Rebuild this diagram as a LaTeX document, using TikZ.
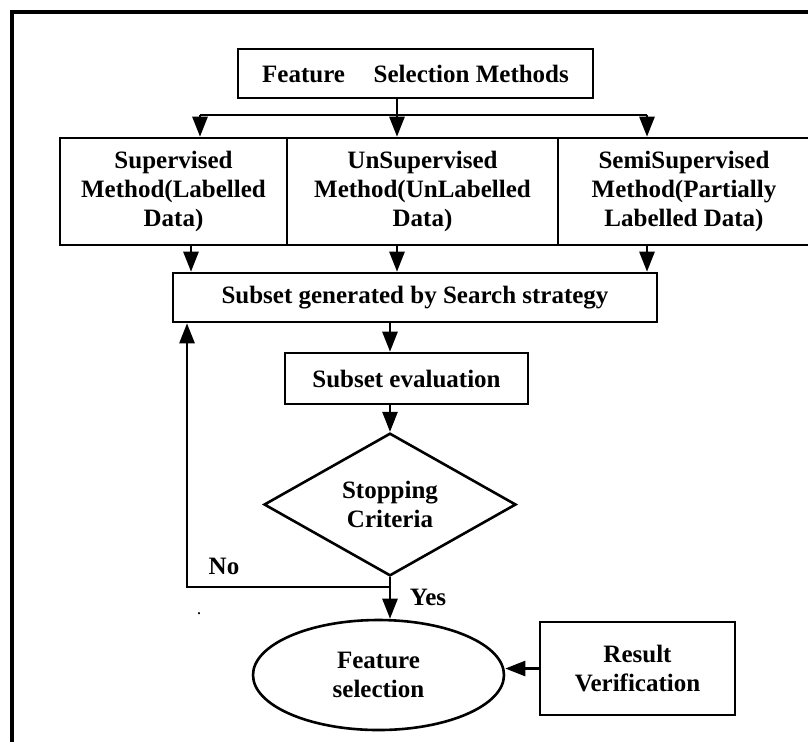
\documentclass[tikz,border=0pt]{standalone}
\usepackage{fontspec}
\setmainfont{Liberation Serif}
\usepackage{tikz}
\usetikzlibrary{shapes.geometric, arrows.meta, positioning}

\begin{document}
\begin{tikzpicture}[
  x=0.5pt, y=-0.5pt,
  every node/.style={font=\bfseries\fontsize{12.5}{14.6}\selectfont},
  box/.style={draw, line width=1.3pt, align=center, inner sep=0pt},
  cond/.style={box, diamond},
  endp/.style={box, ellipse},
  arr/.style={-{Triangle[length=10pt, width=7.5pt]}, line width=1.3pt},
  frame/.style={line width=1.8pt}
]
\clip (0,0) rectangle (808,741);

%% outer frame
\draw[frame] (12,760) -- (12,12) -- (830,12);

%% methods
\node[box, minimum width=177.5pt, minimum height=24.5pt]
  (fsm) at (415.5,73.5) {Feature\hspace{0.9em} Selection Methods};
\node[box, minimum width=113.5pt, minimum height=53.5pt]
  (sup) at (173.5,191.5) {Supervised\\Method(Labelled\\Data)};
\node[box, minimum width=135.5pt, minimum height=53.5pt]
  (uns) at (422.5,191.5) {UnSupervised\\Method(UnLabelled\\Data)};
\node[box, minimum width=126pt, minimum height=53.5pt]
  (semi) at (684,191.5) {SemiSupervised\\Method(Partially\\Labelled Data)};

%% branch from the top box
\coordinate (bl) at (200,115);
\coordinate (bm) at (397,115);
\coordinate (bg) at (647,115);
\draw[line width=1.3pt] (fsm.south -| bm) -- (bm);
\draw[line width=1.3pt] (bl) -- (bg);
\foreach \c/\n in {bl/sup, bm/uns, bg/semi}
  \draw[arr] (\c) -- (\c |- \n.north);

%% search and evaluation
\node[box, minimum width=242pt, minimum height=24.5pt]
  (subset) at (415,297.5) {Subset generated by Search strategy};
\node[box, minimum width=121.5pt, minimum height=25.5pt]
  (eval) at (406.5,378.5) {Subset evaluation};
\node[cond, minimum width=126pt, minimum height=68.5pt]
  (stop) at (390,504.5) {Stopping\\Criteria};

\coordinate (d1) at (191,0);
\coordinate (d2) at (397,0);
\coordinate (d3) at (647,0);
\foreach \n/\c in {sup/d1, uns/d2, semi/d3}
  \draw[arr] (\n.south -| \c) -- (\c |- subset.north);

\draw[arr] (subset.south -| stop) -- (eval.north -| stop);
\draw[arr] (eval.south -| stop) -- (stop.north);

%% result
\node[endp, minimum width=125.5pt, minimum height=55pt]
  (sel) at (378.5,675) {Feature\\selection};
\node[box, minimum width=97.5pt, minimum height=46.5pt]
  (res) at (637.5,668.5) {Result\\Verification};

\draw[arr] (stop.south) -- (stop.south |- sel.north);
\draw[arr] (res.west) -- (res.west -| sel.east);

% loop back when not stopping
\coordinate (back) at (187,587);
\draw[arr] (stop.south |- back) -- (back) -- (back |- subset.south);
\node (no)  at (224,566) {No};
\node (yes) at (428,597) {Yes};
\node[font=\normalfont\small] (dot) at (199,614) {.};

\end{tikzpicture}
\end{document}
